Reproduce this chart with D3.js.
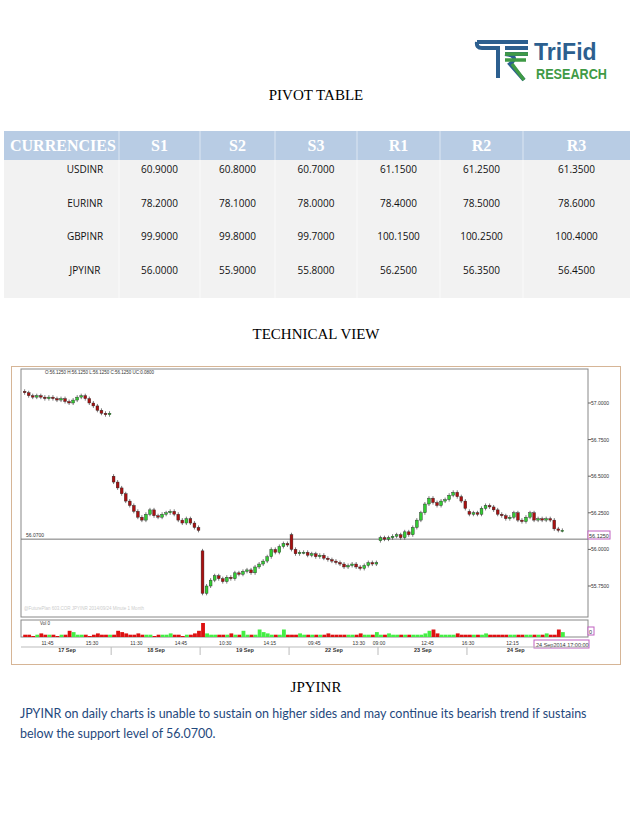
<!DOCTYPE html>
<html><head><meta charset="utf-8">
<script src="https://cdn.jsdelivr.net/npm/d3@7"></script>
<style>body{margin:0;background:#fff}</style>
</head><body>
<script>
// Pivot table data
const headers = ["CURRENCIES", "S1", "S2", "S3", "R1", "R2", "R3"];
const currencies = ["USDINR", "EURINR", "GBPINR", "JPYINR"];
const pivots = [
  ["60.9000", "60.8000", "60.7000", "61.1500", "61.2500", "61.3500"],
  ["78.2000", "78.1000", "78.0000", "78.4000", "78.5000", "78.6000"],
  ["99.9000", "99.8000", "99.7000", "100.1500", "100.2500", "100.4000"],
  ["56.0000", "55.9000", "55.8000", "56.2500", "56.3500", "56.4500"]
];

// Candle chart data (closes per session, first value = session open)
const sessionDays = ["17 Sep", "18 Sep", "19 Sep", "22 Sep", "23 Sep", "24 Sep"];
const sessionOpens = [57.08, 56.50, 55.99, 56.10, 56.06, 56.26];
const sessionCloses = [
  [57.07,57.05,57.04,57.05,57.04,57.03,57.04,57.03,57.02,57.03,57.01,57.00,57.02,57.04,57.05,57.03,57.00,56.98,56.95,56.93,56.92,56.93],
  [56.46,56.42,56.38,56.33,56.30,56.26,56.22,56.20,56.24,56.27,56.23,56.22,56.24,56.25,56.26,56.24,56.20,56.18,56.21,56.18,56.15,56.13],
  [55.70,55.75,55.79,55.82,55.80,55.78,55.81,55.80,55.84,55.83,55.85,55.86,55.84,55.88,55.90,55.92,55.95,56.00,55.98,56.02,56.04,56.03],
  [56.00,55.97,55.98,55.98,55.96,55.97,55.95,55.96,55.94,55.93,55.92,55.91,55.90,55.88,55.89,55.90,55.88,55.87,55.89,55.91,55.90,55.91],
  [56.08,56.07,56.08,56.09,56.10,56.08,56.12,56.10,56.15,56.20,56.25,56.31,56.35,56.32,56.30,56.33,56.34,56.37,56.39,56.36,56.33,56.28],
  [56.24,56.25,56.24,56.28,56.30,56.29,56.27,56.24,56.23,56.21,56.22,56.25,56.20,56.19,56.22,56.25,56.20,56.21,56.20,56.21,56.20,56.14,56.13,56.13]
];
const sessionVolumes = [
  [1,1,0,1,2,1,1,1,0,1,1,4,3,1,1,1,0,1,2,1,1,1],
  [1,4,3,2,1,1,2,1,1,1,0,1,1,1,2,1,1,0,1,1,2,4],
  [10,2,1,1,1,1,1,2,1,1,4,1,1,1,5,3,2,1,1,1,5,1],
  [1,1,2,1,1,1,1,1,1,2,1,1,1,1,1,1,1,2,1,1,1,3],
  [1,1,2,1,1,1,1,1,1,1,1,2,4,5,2,1,1,1,1,2,1,1],
  [1,1,1,1,2,1,1,1,1,1,1,1,1,1,1,1,1,1,1,2,1,1,5,3]
];
const priceTicks = [57.0, 56.75, 56.5, 56.25, 56.0, 55.75];
const supportLevel = 56.07;
const timeLabels = [["11:45",6],["15:30",17],["11:30",28],["14:45",39],["10:30",50],["14:15",61],["09:45",72],["13:30",83],["09:00",88],["12:45",100],["16:30",110],["12:15",121]];

const W = 638, H = 826;
const svg = d3.select("body").append("svg").attr("width", W).attr("height", H)
  .style("font-family", "'Liberation Sans', Arial, sans-serif");

// Logo
const logo = svg.append("g");
logo.append("path").attr("d", "M477,42 H528 M477,42 Q476,48 482,48 H500 M498,48 V78 M505,48 H528 M505,54 H528 M505,54 Q520,56 510,64 L524,80")
  .attr("fill", "none").attr("stroke", "#2c5f8f").attr("stroke-width", 4);
logo.append("path").attr("d", "M505,54 H528 M505,60 H526 M512,64 L524,80").attr("fill", "none").attr("stroke", "#3f9a45").attr("stroke-width", 3.5);
logo.append("text").attr("x", 534).attr("y", 60).attr("font-size", 23).attr("font-weight", "bold").attr("fill", "#2c5f8f").text("TriFid");
logo.append("text").attr("x", 536).attr("y", 79).attr("font-size", 14.5).attr("font-weight", "bold").attr("fill", "#3f9a45")
  .attr("textLength", 71).attr("lengthAdjust", "spacingAndGlyphs").text("RESEARCH");

const serif = "'Liberation Serif', 'Times New Roman', serif";
const title = (t, y) => svg.append("text").attr("x", 316).attr("y", y).attr("text-anchor", "middle")
  .attr("font-family", serif).attr("font-size", 15).attr("fill", "#000").text(t);
title("PIVOT TABLE", 100);
title("TECHNICAL VIEW", 339);
title("JPYINR", 692);

// Table
const colEdges = [4, 119, 200, 275, 357, 440, 523, 630];
const colCenter = i => i === 0 ? 85 : (colEdges[i] + colEdges[i + 1]) / 2;
svg.append("rect").attr("x", 4).attr("y", 131).attr("width", 626).attr("height", 29).attr("fill", "#b8cce4");
svg.append("rect").attr("x", 4).attr("y", 160).attr("width", 626).attr("height", 138).attr("fill", "#f2f2f2");
colEdges.slice(1, -1).forEach(e => {
  svg.append("line").attr("x1", e).attr("x2", e).attr("y1", 131).attr("y2", 160).attr("stroke", "#dce6f2");
  svg.append("line").attr("x1", e).attr("x2", e).attr("y1", 160).attr("y2", 298).attr("stroke", "#fafafa");
});
headers.forEach((h, i) => {
  svg.append("text").attr("x", i === 0 ? 10 : colCenter(i)).attr("y", 151)
    .attr("text-anchor", i === 0 ? "start" : "middle").attr("font-family", serif)
    .attr("font-size", 16).attr("font-weight", "bold").attr("fill", "#fff").text(h);
});
const rowY = d3.scalePoint().domain(currencies).range([173, 274]);
currencies.forEach((c, r) => {
  [c, ...pivots[r]].forEach((v, i) => {
    svg.append("text").attr("x", colCenter(i)).attr("y", rowY(c)).attr("text-anchor", "middle")
      .attr("font-family", "'Open Sans', sans-serif").attr("font-size", 10).attr("fill", "#111").text(v);
  });
});

// Chart frame
svg.append("rect").attr("x", 11.5).attr("y", 366.5).attr("width", 609).attr("height", 298).attr("fill", "#fff").attr("stroke", "#d6b596");
const px0 = 21, px1 = 588, py0 = 369, py1 = 617, vy0 = 620, vy1 = 637;
svg.append("rect").attr("x", px0).attr("y", py0).attr("width", px1 - px0).attr("height", py1 - py0).attr("fill", "none").attr("stroke", "#888");
svg.append("rect").attr("x", px0).attr("y", vy0).attr("width", px1 - px0).attr("height", vy1 - vy0).attr("fill", "none").attr("stroke", "#888");

// Flatten candles
const candles = [];
sessionCloses.forEach((cl, s) => {
  let prev = sessionOpens[s];
  cl.forEach((c, k) => {
    candles.push({ s, k, o: prev, c, v: sessionVolumes[s][k] });
    prev = c;
  });
});
const x = d3.scaleBand().domain(d3.range(candles.length)).range([px0 + 1, 565]).padding(0.3);
const y = d3.scaleLinear().domain([55.75, 57.0]).range([586, 403]);
const vy = d3.scaleLinear().domain([0, 10]).range([vy1 - 1, vy0 + 3]);

// support line
svg.append("line").attr("x1", px0).attr("x2", px1).attr("y1", y(supportLevel)).attr("y2", y(supportLevel)).attr("stroke", "#777");
svg.append("text").attr("x", 26).attr("y", y(supportLevel) - 2).attr("font-size", 5).attr("fill", "#333").text("56.0700");
svg.append("text").attr("x", 45).attr("y", 374).attr("font-size", 4.5).attr("fill", "#333")
  .text("O:56.1250  H:56.1250  L:56.1250  C:56.1250  UC:0.0800");

const g = svg.append("g");
candles.forEach((d, i) => {
  const up = d.c >= d.o;
  const cx = x(i) + x.bandwidth() / 2;
  g.append("line").attr("x1", cx).attr("x2", cx)
    .attr("y1", y(Math.max(d.o, d.c)) - 2).attr("y2", y(Math.min(d.o, d.c)) + 2).attr("stroke", "#222").attr("stroke-width", 0.6);
  g.append("rect").attr("x", x(i)).attr("width", x.bandwidth())
    .attr("y", y(Math.max(d.o, d.c))).attr("height", Math.max(1, Math.abs(y(d.o) - y(d.c))))
    .attr("fill", up ? "#33cc33" : "#aa1111").attr("stroke", "#222").attr("stroke-width", 0.4);
  g.append("rect").attr("x", x(i)).attr("width", x.bandwidth() + 1).attr("y", vy(d.v))
    .attr("height", vy1 - vy(d.v)).attr("fill", up ? "#44ee44" : "#dd1111");
});

// price axis labels
priceTicks.forEach(p => {
  svg.append("line").attr("x1", px1).attr("x2", px1 + 3).attr("y1", y(p)).attr("y2", y(p)).attr("stroke", "#666");
  svg.append("text").attr("x", px1 + 3).attr("y", y(p) + 2).attr("font-size", 5).attr("fill", "#333").text(p.toFixed(4));
});
svg.append("rect").attr("x", px1).attr("y", 531).attr("width", 22).attr("height", 8).attr("fill", "#fff").attr("stroke", "#c060c0");
svg.append("text").attr("x", px1 + 1).attr("y", 537.5).attr("font-size", 5.5).attr("fill", "#333").text("56.1250");
svg.append("rect").attr("x", px1).attr("y", 627).attr("width", 6).attr("height", 8).attr("fill", "#fff").attr("stroke", "#c060c0");
svg.append("text").attr("x", px1 + 1).attr("y", 633.5).attr("font-size", 5.5).attr("fill", "#333").text("0");
svg.append("text").attr("x", 40).attr("y", 625).attr("font-size", 4.5).attr("fill", "#333").text("Vol 0");
svg.append("text").attr("x", 24).attr("y", 610).attr("font-size", 4.5).attr("fill", "#ccc").text("@FuturePlan 603.COR  JPYINR 2014/09/24 Minute 1 Month");
svg.append("rect").attr("x", 534).attr("y", 640).attr("width", 55).attr("height", 8).attr("fill", "#fff").attr("stroke", "#c060c0");
svg.append("text").attr("x", 536).attr("y", 646.5).attr("font-size", 5.5).attr("fill", "#333").text("24 Sep2014 17:00:00");

// time & date labels
timeLabels.forEach(([t, i]) => {
  svg.append("text").attr("x", x(i)).attr("y", 645).attr("text-anchor", "middle").attr("font-size", 5).attr("fill", "#333").text(t);
});
let start = 0;
sessionCloses.forEach((cl, s) => {
  const a = x(start), b = x(start + cl.length - 1) + x.bandwidth();
  if (s > 0) svg.append("line").attr("x1", a - 1).attr("x2", a - 1).attr("y1", 647).attr("y2", 655).attr("stroke", "#bbb");
  svg.append("text").attr("x", (a + b) / 2).attr("y", 652).attr("text-anchor", "middle").attr("font-size", 5.5)
    .attr("font-weight", "bold").attr("fill", "#333").text(sessionDays[s]);
  start += cl.length;
});
svg.append("line").attr("x1", px0).attr("x2", px1).attr("y1", 647).attr("y2", 647).attr("stroke", "#bbb");

// Commentary
const para = ["JPYINR on daily charts is unable to sustain on higher sides and may continue its bearish trend if sustains",
  "below the support level of 56.0700."];
para.forEach((t, i) => {
  svg.append("text").attr("x", 20).attr("y", 718 + i * 20).attr("font-family", "Lato, sans-serif").attr("font-size", 12.5)
    .attr("fill", "#1f497d").text(t);
});
</script>
</body></html>
